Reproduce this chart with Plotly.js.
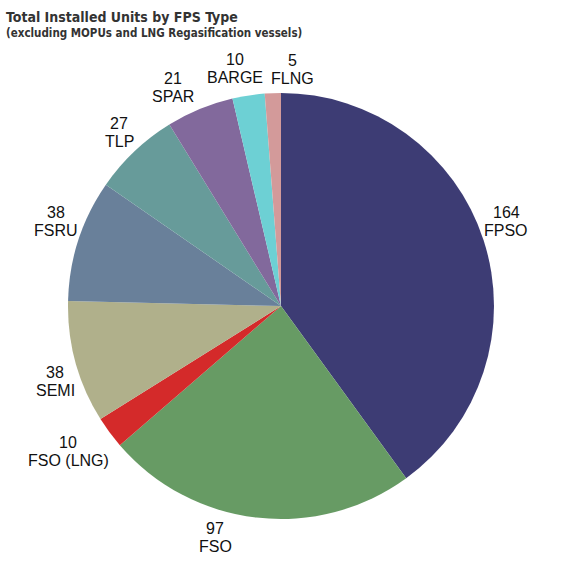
<!DOCTYPE html>
<html><head><meta charset="utf-8">
<script src="https://cdn.plot.ly/plotly-3.0.1.min.js"></script>
<style>html,body{margin:0;padding:0;background:#fff}</style>
</head><body><div id="chart" style="width:562px;height:562px"></div>
<script>
const labels = ["FPSO","FSO","FSO (LNG)","SEMI","FSRU","TLP","SPAR","BARGE","FLNG"];
const values = [164,97,10,38,38,27,21,10,5];
const colors = ["#3d3c74","#679b64","#d42a2a","#b0b08b","#69809a","#679b9a","#82699c","#6dd0d4","#d39a9a"];

const W = 562, H = 562;
const M = {l: 68, r: 68, t: 93, b: 43};
const PW = W - M.l - M.r, PH = H - M.t - M.b;
const CX = M.l + PW / 2, CY = M.t + PH / 2, RAD = Math.min(PW, PH) / 2;
const toPX = x => (x - M.l) / PW;
const toPY = y => 1 - (y - M.t) / PH;

// label nudges (pixels) to mimic original's best-fit placement
const labelNudge = {"FSO": [-41, 0], "BARGE": [-13, 8], "FLNG": [20, 4], "SPAR": [-5, 2]};
const FONT_SIZE = 16, FONT_FAMILY = "Liberation Sans, Arial, sans-serif";
const labelFont = {family: FONT_FAMILY, size: FONT_SIZE, color: "#111"};
const LINE = 18, GAP = 1;

const ctx = document.createElement("canvas").getContext("2d");
ctx.font = FONT_SIZE + "px 'Liberation Sans', Arial, sans-serif";
const textW = s => ctx.measureText(s).width;

const annotations = [];
const total = values.reduce((a, b) => a + b, 0);
let cum = 0;
values.forEach((v, i) => {
  const mid = (cum + v / 2) / total * 2 * Math.PI;
  cum += v;
  const sx = Math.sin(mid), cy = -Math.cos(mid);
  const px = CX + (RAD + GAP) * sx, py = CY + (RAD + GAP) * cy;
  const w = Math.max(textW(String(v)), textW(labels[i]));
  const bx = Math.abs(sx) < 0.2 ? px : (sx > 0 ? px + w / 2 : px - w / 2);
  const upper = cy < 0;
  const nudge = labelNudge[labels[i]] || [0, 0];
  const base = {xref: "paper", yref: "paper", x: toPX(bx), y: toPY(py), xanchor: "center",
    yanchor: upper ? "bottom" : "top", showarrow: false, font: labelFont,
    xshift: nudge[0], borderpad: 0};
  annotations.push(Object.assign({}, base, {text: String(v), yshift: (upper ? LINE : 0) + nudge[1]}));
  annotations.push(Object.assign({}, base, {text: labels[i], yshift: (upper ? 0 : -LINE) + nudge[1]}));
});

annotations.push({xref: "paper", yref: "paper", x: toPX(5), y: toPY(8), xanchor: "left", yanchor: "top",
  showarrow: false, borderpad: 0, text: "<b>Total Installed Units by FPS Type</b>",
  font: {family: "DejaVu Sans Condensed, DejaVu Sans, sans-serif", size: 14, color: "#333"}});
annotations.push({xref: "paper", yref: "paper", x: toPX(5), y: toPY(25), xanchor: "left", yanchor: "top",
  showarrow: false, borderpad: 0, text: "<b>(excluding MOPUs and LNG Regasification vessels)</b>",
  font: {family: "DejaVu Sans Condensed, DejaVu Sans, sans-serif", size: 11.5, color: "#333"}});

const data = [{
  type: "pie",
  labels: labels,
  values: values,
  sort: false,
  direction: "clockwise",
  rotation: 0,
  marker: {colors: colors, line: {width: 0}},
  textinfo: "none",
  hoverinfo: "label+value"
}];
const layout = {
  width: W, height: H,
  margin: M,
  showlegend: false,
  paper_bgcolor: "#fff",
  annotations: annotations
};
Plotly.newPlot("chart", data, layout, {displayModeBar: false, staticPlot: true});
</script></body></html>
